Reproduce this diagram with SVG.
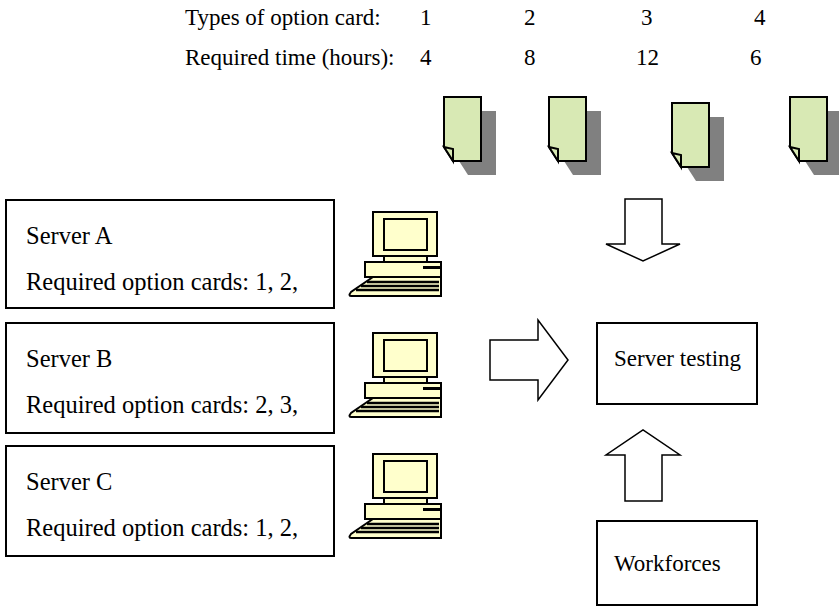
<svg xmlns="http://www.w3.org/2000/svg" width="839" height="615" viewBox="0 0 839 615">
  <defs>
    <style>
      text { font-family: "Liberation Serif", "Times New Roman", serif; font-size: 23px; fill: #000; }
      .server text { font-size: 24.5px; }
      .box { fill: #fff; stroke: #000; stroke-width: 2; }
      .arrow { fill: #fff; stroke: #000; stroke-width: 1.5; stroke-linejoin: miter; }
      .card { fill: #d8e9b4; stroke: #000; stroke-width: 2; stroke-linejoin: miter; }
      .shadow { fill: #808080; }
      .pc { fill: #ffffcc; stroke: #000; stroke-width: 2; }
      .keys { stroke: #000; stroke-width: 2.5; }
    </style>
    <!-- option card: folded corner at bottom-left, drop shadow behind -->
    <g id="card">
      <path class="shadow" d="M15,14 H52 V78 H24 L15,64 Z"/>
      <path class="card" d="M0,0 H37 V64 H9 L0,50 Z"/>
      <path class="card" d="M0,50 L9,52 V64 Z"/>
    </g>
    <!-- desktop computer icon, origin at monitor top-left -->
    <g id="pc">
      <rect class="pc" x="-8" y="50" width="76" height="15"/>
      <rect x="50" y="54" width="18" height="3" fill="#000"/>
      <rect class="pc" x="11" y="44" width="43" height="6"/>
      <rect class="pc" x="0" y="0" width="64" height="44"/>
      <rect class="pc" x="11" y="7" width="43" height="31"/>
      <path class="pc" d="M0,65 H68 V84 H-22 Q-25,84 -22,80 Z"/>
      <path class="keys" d="M-6,70 H66 M-12,74 H66 M-17,78 H66"/>
    </g>
  </defs>

  <!-- table of option cards and test times -->
  <g id="card-table">
    <text x="185" y="25">Types of option card:</text>
    <text x="420" y="25">1</text>
    <text x="524" y="25">2</text>
    <text x="641" y="25">3</text>
    <text x="754" y="25">4</text>
    <text x="185" y="65">Required time (hours):</text>
    <text x="420" y="65">4</text>
    <text x="524" y="65">8</text>
    <text x="636" y="65">12</text>
    <text x="750" y="65">6</text>
  </g>

  <g id="card-1"><use href="#card" x="444" y="97"/></g>
  <g id="card-2"><use href="#card" x="549" y="97"/></g>
  <g id="card-3"><use href="#card" x="672" y="103"/></g>
  <g id="card-4"><use href="#card" x="790" y="97"/></g>

  <g id="server-a" class="server">
    <rect class="box" x="6" y="200" width="328" height="108"/>
    <text x="26" y="244">Server A</text>
    <text x="26" y="290">Required option cards: 1, 2,</text>
    <use href="#pc" x="373" y="212"/>
  </g>
  <g id="server-b" class="server">
    <rect class="box" x="6" y="323" width="328" height="110"/>
    <text x="26" y="367">Server B</text>
    <text x="26" y="413">Required option cards: 2, 3,</text>
    <use href="#pc" x="373" y="333"/>
  </g>
  <g id="server-c" class="server">
    <rect class="box" x="6" y="446" width="328" height="110"/>
    <text x="26" y="490">Server C</text>
    <text x="26" y="536">Required option cards: 1, 2,</text>
    <use href="#pc" x="373" y="454"/>
  </g>

  <g id="server-testing">
    <rect class="box" x="597" y="323" width="160" height="81"/>
    <text x="614" y="366">Server testing</text>
  </g>
  <g id="workforces">
    <rect class="box" x="597" y="521" width="160" height="84"/>
    <text x="614" y="571">Workforces</text>
  </g>

  <!-- block arrows -->
  <g id="connectors">
    <path class="arrow" d="M625,199 H662 V244 H680 L643,261 L606,244 H625 Z"/>
    <path class="arrow" d="M490,340 H538 V320 L568,360 L538,400 V380 H490 Z"/>
    <path class="arrow" d="M625,501 V455 H606 L643,430 L680,455 H662 V501 Z"/>
  </g>
</svg>
